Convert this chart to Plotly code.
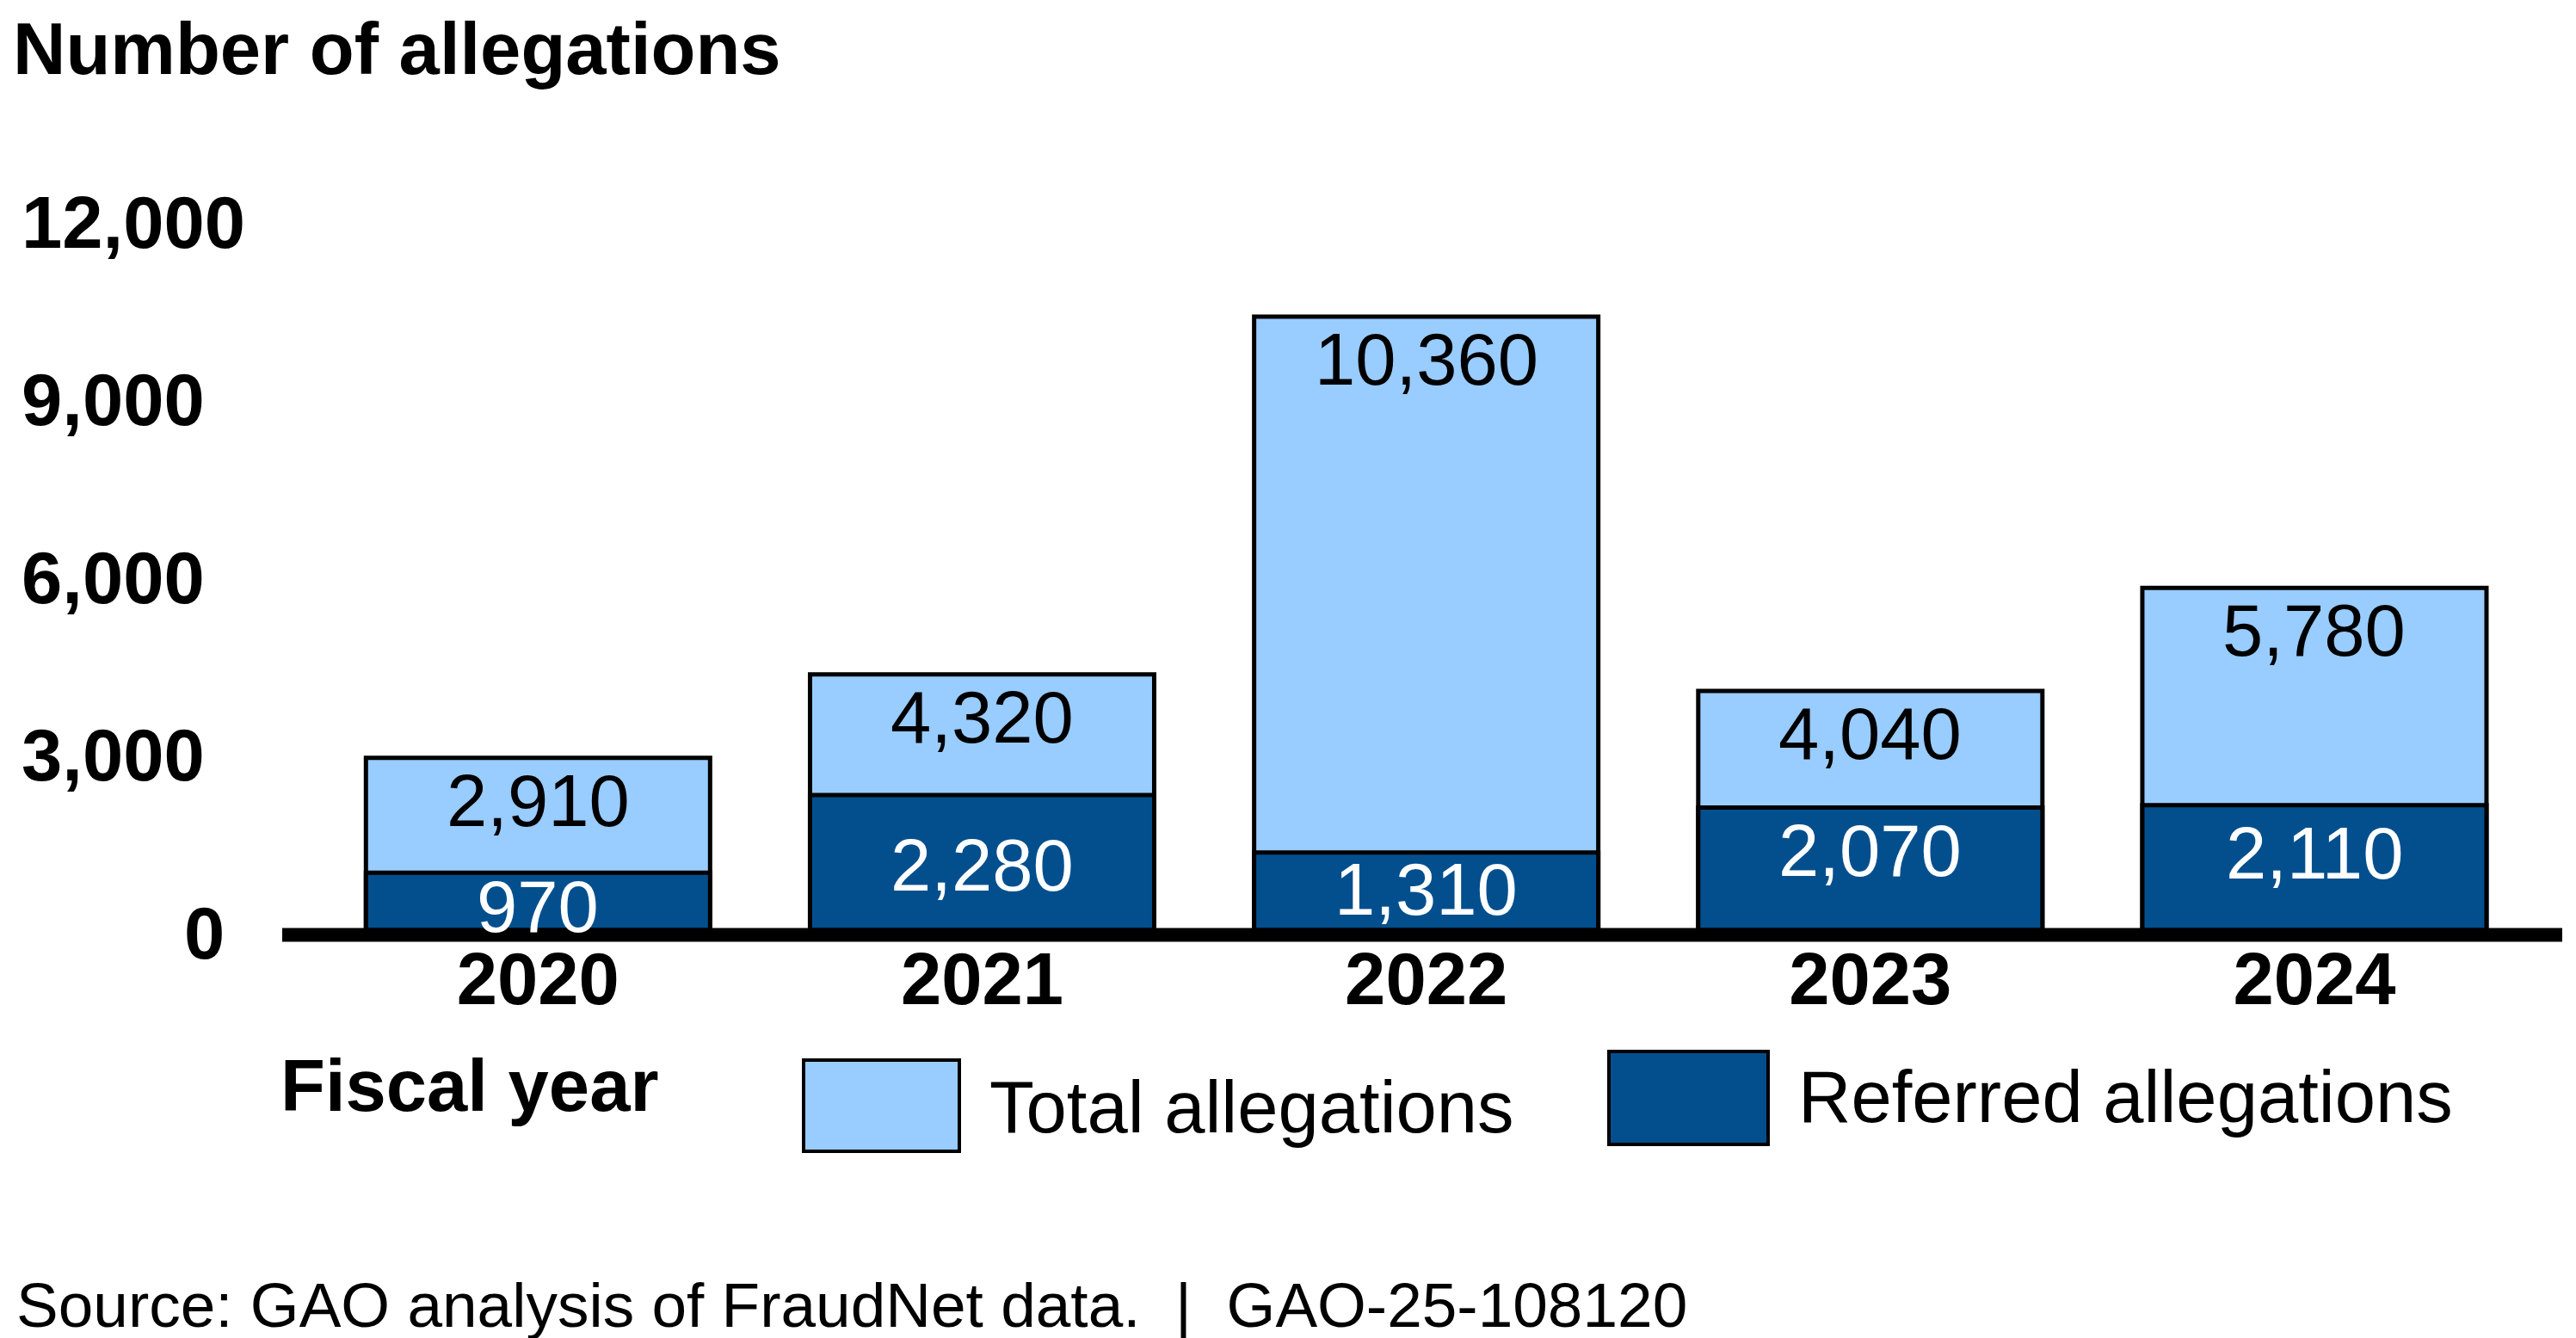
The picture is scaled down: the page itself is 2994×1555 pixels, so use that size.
import plotly.graph_objects as go

# ---- data ----
years = ["2020", "2021", "2022", "2023", "2024"]
total_allegations = [2910, 4320, 10360, 4040, 5780]
referred_allegations = [970, 2280, 1310, 2070, 2110]
y_tick_values = [0, 3000, 6000, 9000, 12000]
y_tick_labels = ["0", "3,000", "6,000", "9,000", "12,000"]

# ---- style ----
W, H = 2994, 1555
OFF = 8  # default page body margin
# plot area in page pixels: x 328..2978, y 255..1081
PL, PR, PT, PB = 328, 2978, 255, 1081
ML, MR = PL - OFF, W - (PR - OFF)
MT, MB = PT - OFF, H - (PB - OFF)
PW, PH = PR - PL, PB - PT
FONT = "Liberation Sans, Arial, sans-serif"
LIGHT = "#99CCFF"
DARK = "#034F8E"
FS = 85
# small per-label vertical nudges (px) for referred labels, to mirror the original layout
ref_label_nudge = [10, -32, 7, 0, -6]


def px2x(px):
    return (px - PL) / PW


def py2y(py):
    return (PB - py) / PH


fig = go.Figure()
fig.add_trace(go.Bar(
    x=years, y=total_allegations, name="Total allegations",
    marker=dict(color=LIGHT, line=dict(color="black", width=5)),
    hoverinfo="x+y",
))
fig.add_trace(go.Bar(
    x=years, y=referred_allegations, name="Referred allegations",
    marker=dict(color=DARK, line=dict(color="black", width=5)),
    hoverinfo="x+y",
))

annotations = []
for i, v in enumerate(total_allegations):
    annotations.append(dict(
        x=i, y=v, xref="x", yref="y", text=f"{v:,}", showarrow=False,
        xanchor="center", yanchor="top", yshift=0,
        font=dict(family=FONT, size=FS, color="black"),
    ))
for i, (v, nud) in enumerate(zip(referred_allegations, ref_label_nudge)):
    annotations.append(dict(
        x=i, y=v, xref="x", yref="y", text=f"{v:,}", showarrow=False,
        xanchor="center", yanchor="top", yshift=nud,
        font=dict(family=FONT, size=FS, color="white"),
    ))

# y tick labels
for tv, tl in zip(y_tick_values, y_tick_labels):
    if tv == 0:
        ax_x, anchor = px2x(263), "right"
    else:
        ax_x, anchor = px2x(23), "left"
    annotations.append(dict(
        x=ax_x, y=tv, xref="paper", yref="y", text=tl, showarrow=False,
        xanchor=anchor, yanchor="middle", yshift=-3,
        font=dict(family=FONT, size=FS, color="black", weight="bold"),
    ))

# title
annotations.append(dict(
    x=px2x(13), y=py2y(57), xref="paper", yref="paper",
    text="Number of allegations", showarrow=False, xanchor="left", yanchor="middle",
    font=dict(family=FONT, size=FS, color="black", weight="bold"),
))
# x axis title
annotations.append(dict(
    x=px2x(324), y=py2y(1261), xref="paper", yref="paper",
    text="Fiscal year", showarrow=False, xanchor="left", yanchor="middle",
    font=dict(family=FONT, size=FS, color="black", weight="bold"),
))
# legend texts
annotations.append(dict(
    x=px2x(1148), y=py2y(1286), xref="paper", yref="paper",
    text="Total allegations", showarrow=False, xanchor="left", yanchor="middle",
    font=dict(family=FONT, size=FS, color="black"),
))
annotations.append(dict(
    x=px2x(2088), y=py2y(1274), xref="paper", yref="paper",
    text="Referred allegations", showarrow=False, xanchor="left", yanchor="middle",
    font=dict(family=FONT, size=FS, color="black"),
))
# source
annotations.append(dict(
    x=px2x(17), y=py2y(1516), xref="paper", yref="paper",
    text="Source: GAO analysis of FraudNet data.\u00a0\u00a0|\u00a0\u00a0GAO-25-108120",
    showarrow=False, xanchor="left", yanchor="middle",
    font=dict(family=FONT, size=73, color="black"),
))

shapes = [
    # baseline (thick axis line)
    dict(type="line", xref="paper", yref="paper",
         x0=0, x1=1, y0=py2y(1086.5), y1=py2y(1086.5),
         line=dict(color="black", width=16), layer="above"),
    # legend swatches
    dict(type="rect", xref="paper", yref="paper",
         x0=px2x(934), x1=px2x(1115), y0=py2y(1338), y1=py2y(1232),
         fillcolor=LIGHT, line=dict(color="black", width=4)),
    dict(type="rect", xref="paper", yref="paper",
         x0=px2x(1870), x1=px2x(2055), y0=py2y(1330), y1=py2y(1222),
         fillcolor=DARK, line=dict(color="black", width=4)),
]

fig.update_layout(
    width=W, height=H,
    margin=dict(l=ML, r=MR, t=MT, b=MB, pad=0),
    barmode="overlay", bargap=0.225,
    paper_bgcolor="white", plot_bgcolor="white",
    showlegend=False,
    annotations=annotations, shapes=shapes,
    font=dict(family=FONT, size=FS, color="black"),
    xaxis=dict(
        type="category", range=[-0.576, 4.558],
        showline=False, ticks="", showgrid=False, zeroline=False,
        tickfont=dict(family=FONT, size=FS, color="black", weight="bold"),
        ticklabelstandoff=0,
    ),
    yaxis=dict(
        range=[0, 12000], tickvals=y_tick_values, showticklabels=False,
        showgrid=False, zeroline=False, showline=False, ticks="",
    ),
)

fig.write_html("out.html")
